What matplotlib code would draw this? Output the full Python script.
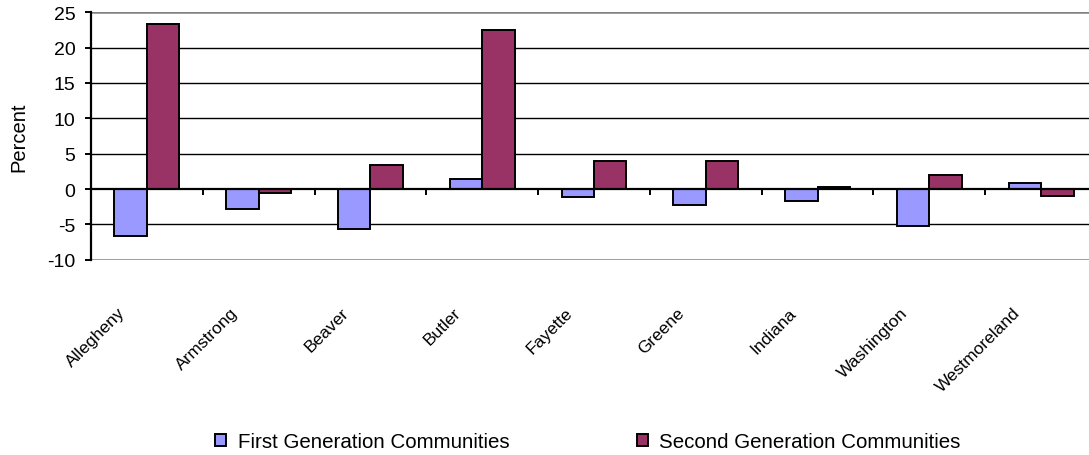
import numpy as np
import matplotlib
matplotlib.use("Agg")
import matplotlib.pyplot as plt
from matplotlib.transforms import ScaledTranslation

plt.rcParams['font.family'] = ['Liberation Sans', 'DejaVu Sans']
plt.rcParams['axes.unicode_minus'] = False

# Data
counties = ["Allegheny", "Armstrong", "Beaver", "Butler", "Fayette",
            "Greene", "Indiana", "Washington", "Westmoreland"]
first_gen = [-6.6, -2.8, -5.6, 1.4, -1.2, -2.3, -1.7, -5.2, 0.9]
second_gen = [23.4, -0.6, 3.4, 22.5, 3.9, 3.9, 0.3, 2.0, -1.0]
series_names = ["First Generation Communities", "Second Generation Communities"]
yticks = [-10, -5, 0, 5, 10, 15, 20, 25]

W, H = 1089, 456
fig = plt.figure(figsize=(W / 100, H / 100), dpi=100)
# plot area runs a little past the right edge, as in the reference
ax = fig.add_axes([91 / W, 1 - 260.7 / H, (1097 - 91) / W, (260.7 - 13.3) / H])

x = np.arange(len(counties))
w = 0.29
ax.bar(x - w / 2, first_gen, w, color="#9999FF", edgecolor="black",
       linewidth=1.4, label=series_names[0], zorder=3)
ax.bar(x + w / 2, second_gen, w, color="#993366", edgecolor="black",
       linewidth=1.4, label=series_names[1], zorder=3)

ax.set_xlim(-0.5, len(counties) - 0.5)
ax.set_ylim(yticks[0], yticks[-1])
ax.set_yticks(yticks)
ax.tick_params(axis='y', direction='out', length=4.3, width=1.4, labelsize=14, pad=7)

# gridlines
for v in yticks[1:-1]:
    if v != 0:
        ax.axhline(v, color="black", linewidth=1.0, zorder=1)
ax.axhline(yticks[-1], color="#808080", linewidth=1.8, zorder=1)
ax.axhline(yticks[0], color="#808080", linewidth=1.8, zorder=1)

# category axis crosses at zero, ticks between categories
ax.spines['bottom'].set_position(('data', 0))
ax.spines['bottom'].set_linewidth(1.6)
ax.spines['bottom'].set_zorder(4)
ax.set_xticks(np.arange(len(counties) + 1) - 0.5)
ax.set_xticklabels([])
ax.tick_params(axis='x', direction='out', length=4.3, width=1.4)
for s in ['top', 'right']:
    ax.spines[s].set_visible(False)
ax.spines['left'].set_linewidth(1.6)

# category labels below the plot area
off = ScaledTranslation(-29 / 100, -45 / 100, fig.dpi_scale_trans)
for i, name in enumerate(counties):
    ax.text(i, 0, name, transform=ax.get_xaxis_transform() + off,
            rotation=45, ha='right', va='top', rotation_mode='anchor',
            fontsize=12.5)

fig.text(19 / W, 1 - 137 / H, "Percent", rotation=90, ha='center',
         va='center', fontsize=14.5)

fig.legend(loc='center left', bbox_to_anchor=(215 / W, 1 - 443 / H), ncol=2,
           frameon=False, fontsize=14.8, columnspacing=6.2,
           handlelength=0.55, handleheight=0.55, handletextpad=0.55,
           borderpad=0, borderaxespad=0)

fig.savefig("out.png", dpi=100)
